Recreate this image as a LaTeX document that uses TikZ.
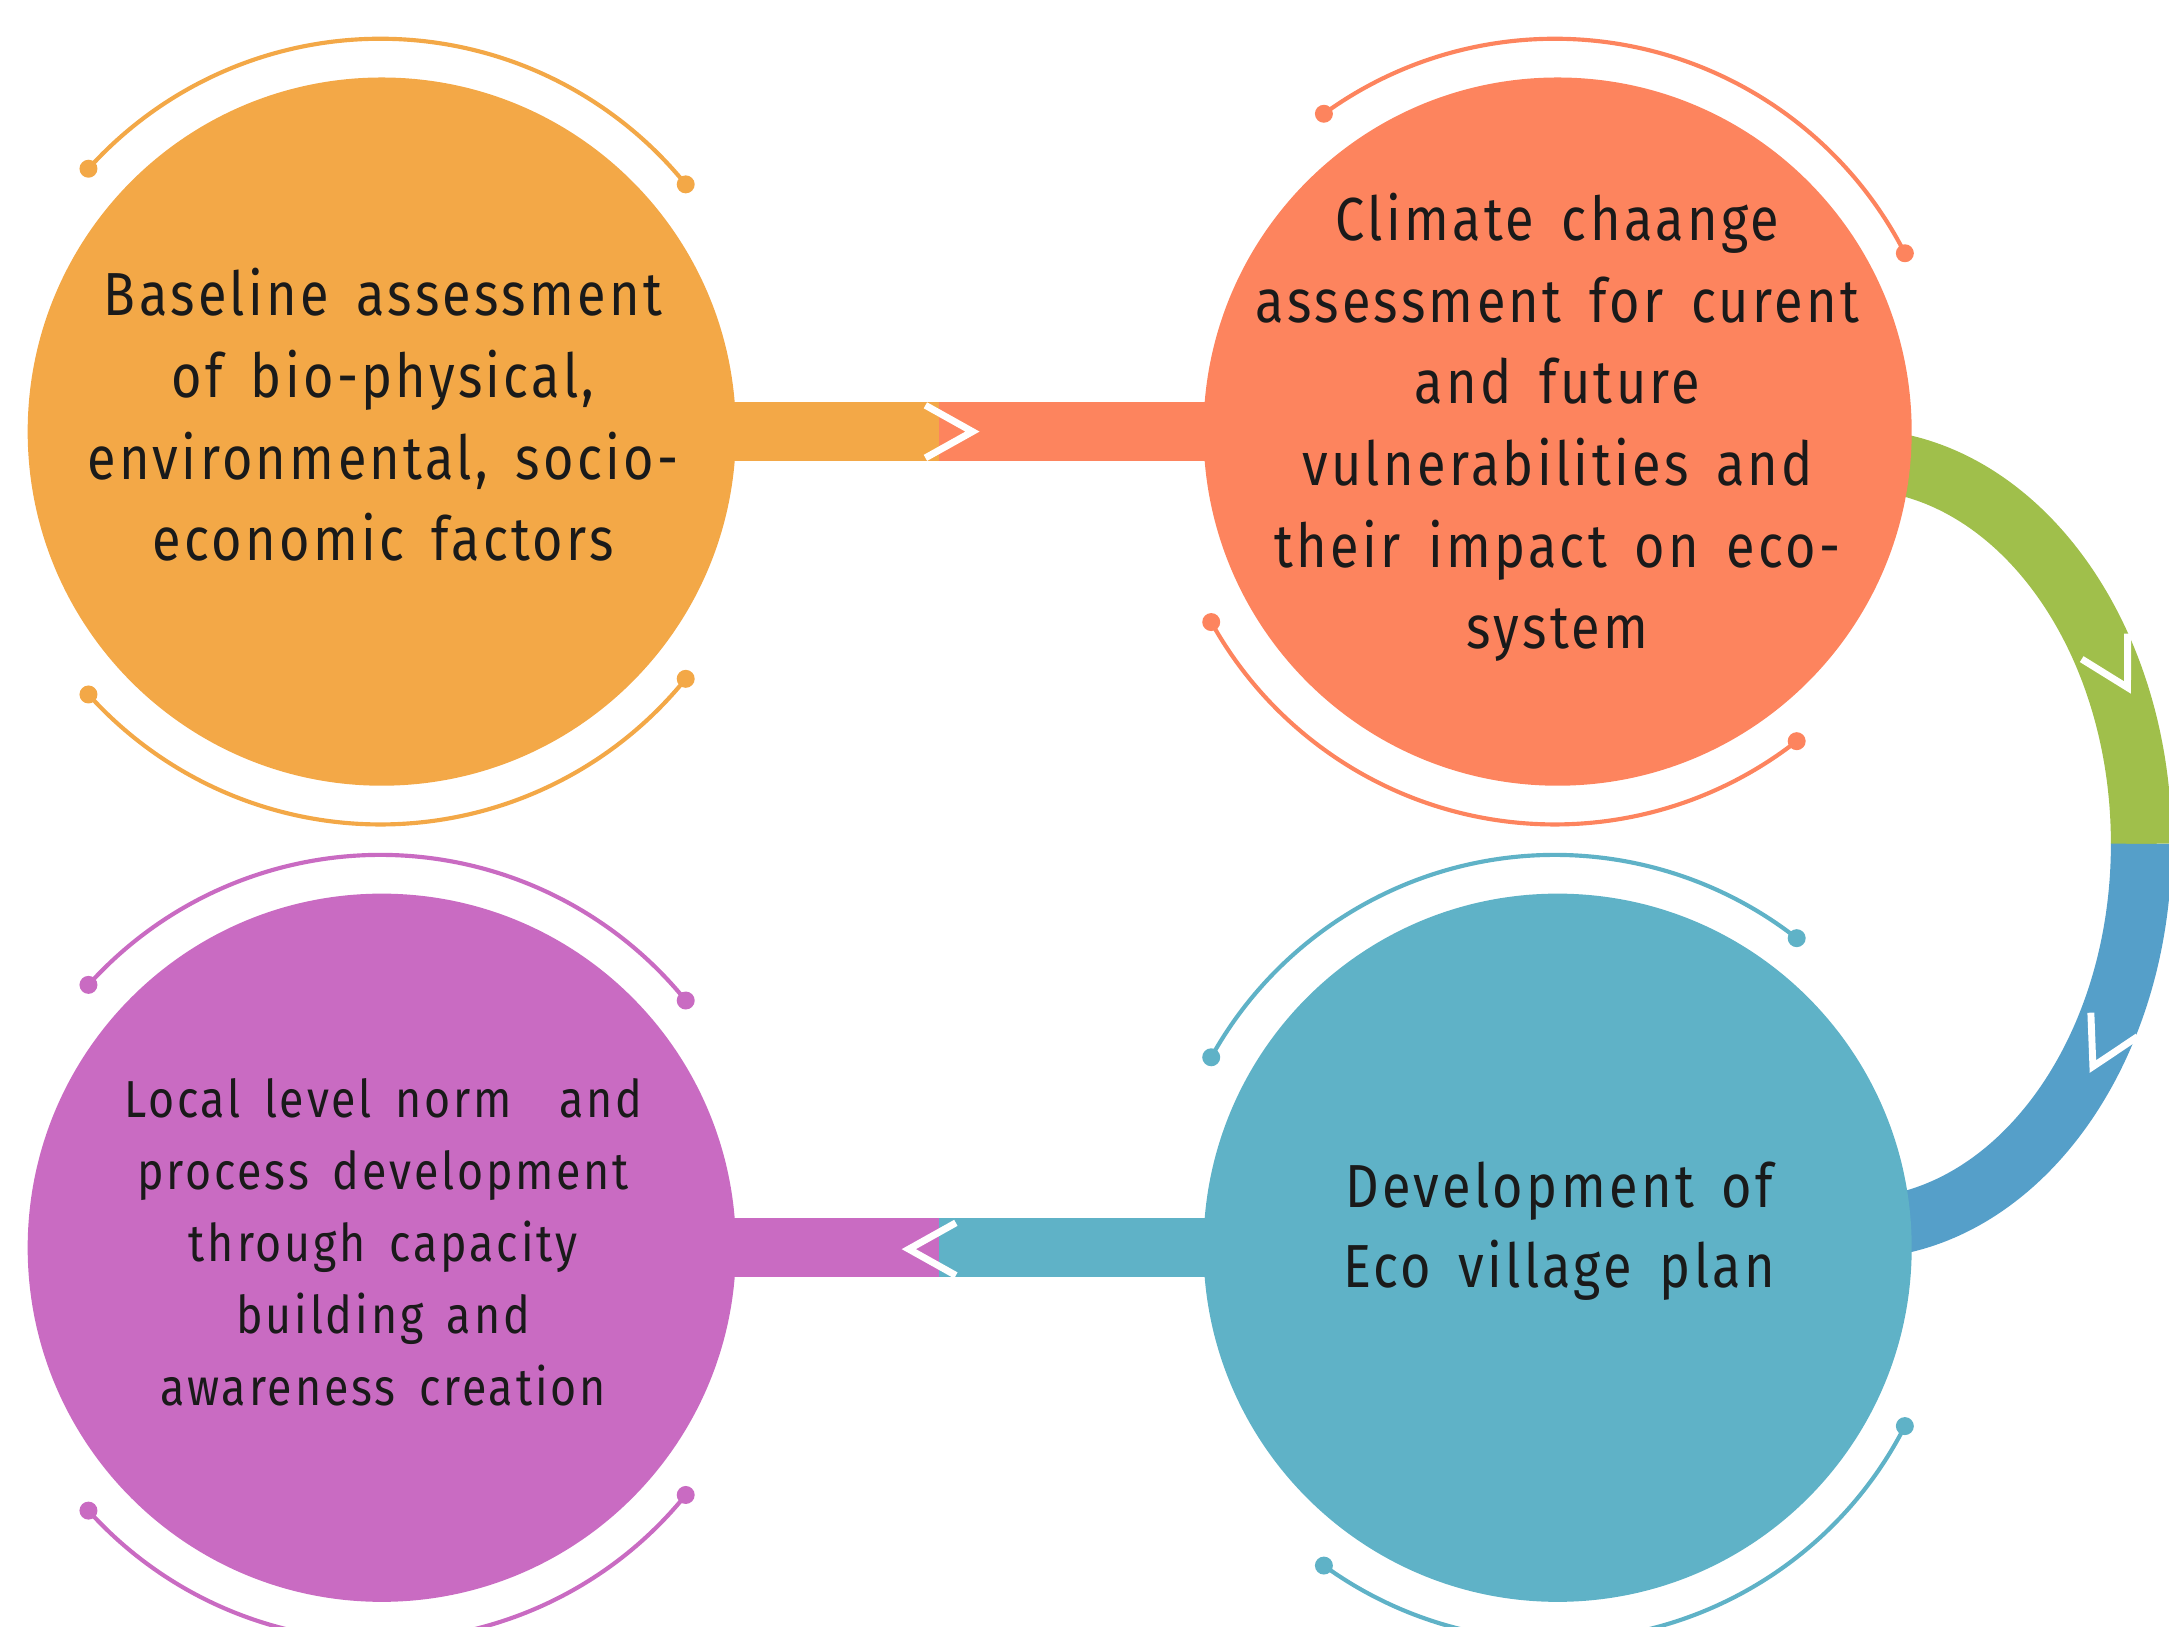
\documentclass[tikz,border=0pt]{standalone}
\usepackage{fontspec}
\newfontfamily\stagefont[FakeStretch=0.86,LetterSpace=5.5,WordSpace=1.6]{Fira Sans}

\definecolor{baseorange}{HTML}{F3A847}
\definecolor{climcoral}{HTML}{FD845E}
\definecolor{normpurple}{HTML}{C96BC2}
\definecolor{planteal}{HTML}{5FB2C7}
\definecolor{loopgreen}{HTML}{A0BF4B}
\definecolor{loopblue}{HTML}{559FC9}
\definecolor{ink}{HTML}{1A1A1A}

\tikzset{
	stage/.style={circle, minimum size=51.2mm, inner sep=0pt},
	stagetext/.style={align=center, text=ink, font=\stagefont\fontsize{12.5}{16.8}\selectfont},
	bar/.style={line width=4.3mm},
	loopband/.style={line width=4.4mm},
	halo/.style={line width=0.3mm},
	chevron/.pic={\draw[white, line width=0.5mm] (-34,-19) -- (0,0) -- (-34,19);}
}

\begin{document}
\begin{tikzpicture}[x=0.1mm, y=-0.1mm]
	\useasboundingbox (0,0) rectangle (1568,1176);
	\clip (0,0) rectangle (1568,1176);

	% stages
	\coordinate (baselinepos) at (276,312);
	\coordinate (climatepos) at (1126,312);
	\coordinate (normpos) at (276,902);
	\coordinate (planpos) at (1126,902);

	% loop on the right
	\coordinate (looptop) at (1340,332);
	\coordinate (loopmid) at (1548,610);
	\draw[loopband, loopgreen] (looptop)
		arc[start angle=-90, end angle=0, x radius=208, y radius=278];
	\draw[loopband, loopblue] (loopmid)
		arc[start angle=0, end angle=90, x radius=208, y radius=278];

	% bars
	\coordinate (topsplit) at (679,312);
	\coordinate (botsplit) at (679,902);
	\draw[bar, baseorange] (baselinepos) -- (topsplit);
	\draw[bar, climcoral] (topsplit) -- (climatepos);
	\draw[bar, planteal] (planpos) -- (botsplit);
	\draw[bar, normpurple] (botsplit) -- (normpos);

	% circles
	\node[stage, fill=baseorange] (baseline) at (baselinepos) {};
	\node[stage, fill=climcoral] (climate) at (climatepos) {};
	\node[stage, fill=normpurple] (norm) at (normpos) {};
	\node[stage, fill=planteal] (plan) at (planpos) {};

	% halos
	\foreach \cx/\cy/\from/\to/\col in {
		275/312/-138/-39/baseorange, 275/312/39/138/baseorange,
		1124/312/-126/-27/climcoral, 1124/312/52/151/climcoral,
		275/902/-138/-39/normpurple, 275/902/39/138/normpurple,
		1124/902/-151/-52/planteal, 1124/902/27/126/planteal} {
		\draw[halo, \col] (\cx,\cy) ++(\from:284)
			arc[start angle=\from, end angle=\to, radius=284];
		\fill[\col] (\cx,\cy) ++(\from:284) circle[radius=6.5];
		\fill[\col] (\cx,\cy) ++(\to:284) circle[radius=6.5];
	}

	% arrows
	\pic at (703,312) {chevron};
	\pic[rotate=180] at (657,903) {chevron};
	\pic[rotate=-61] at (1538,497) {chevron};
	\pic[rotate=-117] at (1513,771) {chevron};

	% texts
	\node[stagetext] (baselinetext) at (277,300)
		{Baseline assessment\\of bio-physical,\\environmental, socio-\\economic factors};
	\node[stagetext] (climatetext) at (1126,309)
		{Climate chaange\\assessment for curent\\and future\\vulnerabilities and\\their impact on eco-\\system};
	\node[stagetext, font=\stagefont\fontsize{10.7}{14.8}\selectfont] (normtext) at (277,898)
		{Local level norm \ and\\process development\\through capacity\\building and\\awareness creation};
	\node[stagetext, font=\stagefont\fontsize{12.5}{16.5}\selectfont] (plantext) at (1127,890)
		{Development of\\Eco village plan};
\end{tikzpicture}
\end{document}
